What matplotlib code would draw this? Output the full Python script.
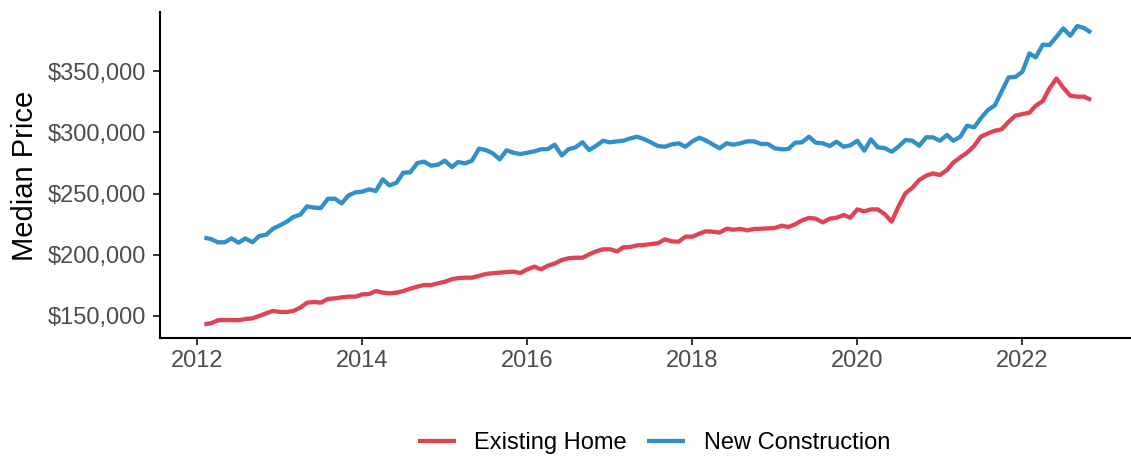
import matplotlib
matplotlib.use("Agg")
import matplotlib.pyplot as plt
import matplotlib.dates as mdates
import pandas as pd
from matplotlib.ticker import FuncFormatter, FixedLocator

# ---------------- data ----------------
dates = pd.date_range("2012-02-01", periods=130, freq="MS")

existing_home = [
    143200, 144000, 146500, 146700, 146700, 146500, 147500, 148100, 150000, 152200,
    154100, 153300, 153300, 154100, 156800, 160900, 161400, 160900, 163900, 164400,
    165200, 165800, 165800, 167700, 168000, 170400, 169100, 168500, 169100, 170400,
    172300, 174000, 175300, 175300, 176700, 178000, 180000, 181000, 181300, 181300,
    182700, 184300, 184900, 185400, 185900, 186200, 185100, 188100, 190300, 188100,
    191100, 192800, 195700, 197100, 197600, 197600, 200400, 202800, 204500, 204500,
    202800, 206100, 206400, 207700, 208000,
    208800, 209400, 212600, 211000, 210700,
    214800, 214800, 217300, 219200, 218900, 218100, 221300, 220500, 221100, 220000,
    221100, 221300, 221600, 221900, 223800, 222700, 224900, 228100, 230100, 229500,
    226500, 229500, 230300, 232500, 230300, 237100, 235500, 237100, 237100, 233300,
    227100, 239300, 250200, 254800, 261100, 264600, 266500, 265200, 269300, 275300,
    279600, 283400, 288900, 296500, 299200, 301400, 302500, 308700, 313700, 315000,
    316100, 321800, 325600, 336000, 344100, 336500, 330000, 329200, 329200, 326500,
]

new_construction = [
    214000, 212900, 210200, 210200, 213400, 209900, 213400, 210200, 215400, 216400,
    221300, 224100, 227100, 230900, 232800, 239600, 238500, 238200, 245800, 245800,
    242000, 248600, 251000, 251600, 253500, 252100, 261600, 256700, 258900, 267100,
    267400, 275000, 276100, 272800, 273600, 276900, 271700, 275800, 274700, 276900,
    286700, 285600, 282900, 278000, 285400, 283400, 282300, 283400, 284500, 286200,
    286400, 290000, 281200, 286200, 287800, 291900, 285600, 289100, 293200, 291900,
    292700, 293200, 295100, 296500, 294500,
    291900, 288900, 288300, 290200, 291100,
    288300, 292700, 295700, 293500, 290200, 287000, 291100, 290000, 291100, 292700,
    292700, 290500, 290500, 287000, 286200, 286400, 291600, 291900, 296500, 291600,
    291100, 288900, 292400, 288300, 289400, 293200, 285100, 294300, 287800, 287200,
    284200, 288300, 293800, 293200, 289100, 296000, 296000, 293200, 297900, 293200,
    296500, 305500, 304100, 311500, 318300, 322100, 333500, 345000, 345300, 349600,
    364600, 361300, 371700, 371400, 378200, 385000, 379000, 386900, 385300, 381500,
]

series_names = ["Existing Home", "New Construction"]
series_colors = ["#DE4456", "#3290C8"]
x_tick_years = [2012, 2014, 2016, 2018, 2020, 2022]
y_ticks = [150000, 200000, 250000, 300000, 350000]
y_label = "Median Price"

# ---------------- figure ----------------
plt.rcParams["font.family"] = ["Liberation Sans", "DejaVu Sans"]

W, H = 1131, 457
fig = plt.figure(figsize=(W / 100, H / 100), dpi=100)
ax = fig.add_axes([160 / W, (H - 338) / H, 975.4 / W, (338 - 12) / H])

for vals, name, col in zip([existing_home, new_construction], series_names, series_colors):
    ax.plot(dates, vals, color=col, lw=3.1, label=name, solid_joinstyle="round",
            solid_capstyle="butt")

d0 = mdates.date2num(dates[0])
d1 = mdates.date2num(dates[-1])
span = d1 - d0
ax.set_xlim(d0 - 0.05 * span, d1 + 0.05 * span)
ax.set_ylim(132000, 398400)

ax.xaxis.set_major_locator(FixedLocator(
    [mdates.date2num(pd.Timestamp(f"{y}-01-01")) for y in x_tick_years]))
ax.xaxis.set_major_formatter(FuncFormatter(lambda v, p: mdates.num2date(v).strftime("%Y")))
ax.yaxis.set_major_locator(FixedLocator(y_ticks))
ax.yaxis.set_major_formatter(FuncFormatter(lambda v, p: f"${v:,.0f}"))

for s in ["top", "right"]:
    ax.spines[s].set_visible(False)
for s in ["left", "bottom"]:
    ax.spines[s].set_linewidth(1.5)
    ax.spines[s].set_color("black")

ax.tick_params(axis="both", which="major", length=5, width=1.4, color="#333333",
               labelcolor="#4D4D4D", labelsize=17)
ax.tick_params(axis="y", pad=5)
ax.tick_params(axis="x", pad=3.5)

fig.text(25 / W, (H - 176) / H, y_label, rotation=90, ha="center", va="center",
         fontsize=21, color="black")

handles, labels = ax.get_legend_handles_labels()
fig.legend(handles, labels, loc="center", bbox_to_anchor=(654 / W, (H - 443) / H),
           ncol=2, frameon=False, fontsize=17, handlelength=1.6, handletextpad=0.8,
           columnspacing=0.85, borderaxespad=0, borderpad=0)

fig.savefig("out.png", dpi=100)
